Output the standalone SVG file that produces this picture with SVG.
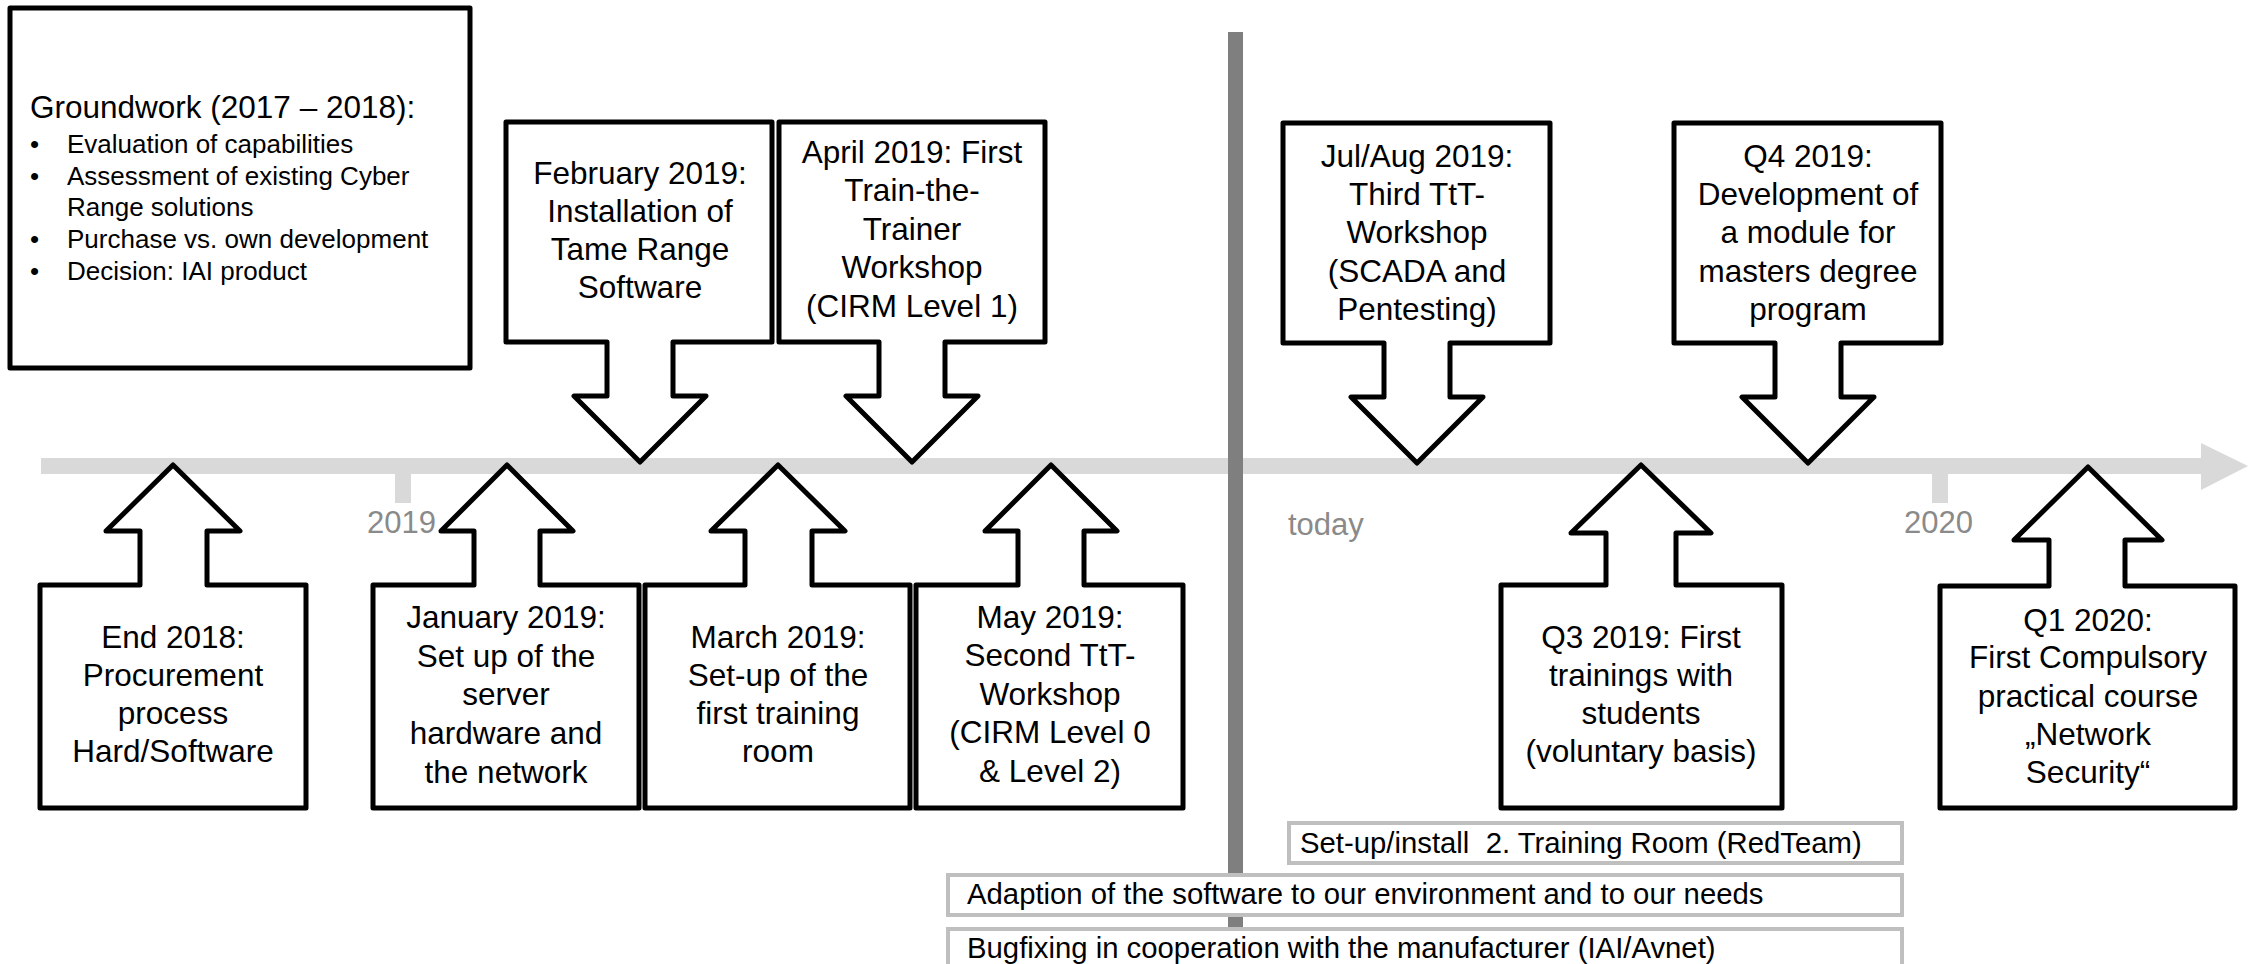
<svg xmlns="http://www.w3.org/2000/svg" width="2251" height="964" viewBox="0 0 2251 964">
<style>
.bg{fill:#ffffff}
.node{fill:#ffffff;stroke:#000000;stroke-width:5;stroke-linejoin:round}
.t{font-family:"Liberation Sans",Arial,Helvetica,sans-serif;font-size:31.5px;fill:#000000;text-anchor:middle}
.gw{font-family:"Liberation Sans",Arial,Helvetica,sans-serif;fill:#000000}
.lbl{font-family:"Liberation Sans",Arial,Helvetica,sans-serif;font-size:31px;fill:#8a8a8a}
.bar{fill:#ffffff;stroke:#bfbfbf;stroke-width:4}
.bt{font-family:"Liberation Sans",Arial,Helvetica,sans-serif;font-size:29.3px;fill:#000000}
.axis{fill:#d9d9d9}
</style>
<rect class="bg" x="0" y="0" width="2251" height="964"/>

<g id="timeline">
  <rect class="axis" x="41" y="458" width="2162" height="16"/>
  <polygon class="axis" points="2201,443 2248,466 2201,490"/>
  <rect class="axis" x="395" y="472" width="16" height="31"/>
  <rect class="axis" x="1932" y="472" width="16" height="31"/>
  <text class="lbl" x="367" y="533">2019</text>
  <text class="lbl" x="1904" y="533">2020</text>
  <text class="lbl" x="1288" y="535">today</text>
</g>

<g id="groundwork">
  <rect class="node" x="10" y="8" width="460" height="360"/>
  <text class="gw" x="30" y="118" font-size="31.5">Groundwork (2017 – 2018):</text>
  <g font-size="26">
    <text class="gw" x="30" y="153">•</text>
    <text class="gw" x="67" y="153">Evaluation of capabilities</text>
    <text class="gw" x="30" y="185">•</text>
    <text class="gw" x="67" y="185">Assessment of existing Cyber</text>
    <text class="gw" x="67" y="216">Range solutions</text>
    <text class="gw" x="30" y="248">•</text>
    <text class="gw" x="67" y="248">Purchase vs. own development</text>
    <text class="gw" x="30" y="280">•</text>
    <text class="gw" x="67" y="280">Decision: IAI product</text>
  </g>
</g>

<g id="feb2019">
  <polygon class="node" points="506,122 772,122 772,342 673,342 673,396 706,396 640,462 574,396 607,396 607,342 506,342"/>
  <text class="t"><tspan x="640" y="184">February 2019:</tspan><tspan x="640" y="222">Installation of</tspan><tspan x="640" y="260">Tame Range</tspan><tspan x="640" y="298">Software</tspan></text>
</g>

<g id="apr2019">
  <polygon class="node" points="779,122 1045,122 1045,342 945,342 945,396 978,396 912,462 846,396 879,396 879,342 779,342"/>
  <text class="t"><tspan x="912" y="163">April 2019: First</tspan><tspan x="912" y="201">Train-the-</tspan><tspan x="912" y="240">Trainer</tspan><tspan x="912" y="278">Workshop</tspan><tspan x="912" y="317">(CIRM Level 1)</tspan></text>
</g>

<g id="julaug2019">
  <polygon class="node" points="1283,123 1550,123 1550,343 1450,343 1450,397 1483,397 1417,463 1351,397 1384,397 1384,343 1283,343"/>
  <text class="t"><tspan x="1417" y="167">Jul/Aug 2019:</tspan><tspan x="1417" y="205">Third TtT-</tspan><tspan x="1417" y="243">Workshop</tspan><tspan x="1417" y="282">(SCADA and</tspan><tspan x="1417" y="320">Pentesting)</tspan></text>
</g>

<g id="q42019">
  <polygon class="node" points="1674,123 1941,123 1941,343 1841,343 1841,397 1874,397 1808,463 1742,397 1775,397 1775,343 1674,343"/>
  <text class="t"><tspan x="1808" y="167">Q4 2019:</tspan><tspan x="1808" y="205">Development of</tspan><tspan x="1808" y="243">a module for</tspan><tspan x="1808" y="282">masters degree</tspan><tspan x="1808" y="320">program</tspan></text>
</g>

<g id="end2018">
  <polygon class="node" points="173,465 240,531 207,531 207,585 306,585 306,808 40,808 40,585 140,585 140,531 106,531"/>
  <text class="t"><tspan x="173" y="648">End 2018:</tspan><tspan x="173" y="686">Procurement</tspan><tspan x="173" y="724">process</tspan><tspan x="173" y="762">Hard/Software</tspan></text>
</g>

<g id="jan2019">
  <polygon class="node" points="507,465 573,531 540,531 540,585 639,585 639,808 373,808 373,585 474,585 474,531 441,531"/>
  <text class="t"><tspan x="506" y="628">January 2019:</tspan><tspan x="506" y="667">Set up of the</tspan><tspan x="506" y="705">server</tspan><tspan x="506" y="744">hardware and</tspan><tspan x="506" y="783">the network</tspan></text>
</g>

<g id="mar2019">
  <polygon class="node" points="778,465 845,531 812,531 812,585 910,585 910,808 645,808 645,585 745,585 745,531 711,531"/>
  <text class="t"><tspan x="778" y="648">March 2019:</tspan><tspan x="778" y="686">Set-up of the</tspan><tspan x="778" y="724">first training</tspan><tspan x="778" y="762">room</tspan></text>
</g>

<g id="may2019">
  <polygon class="node" points="1051,465 1117,531 1084,531 1084,585 1183,585 1183,808 916,808 916,585 1018,585 1018,531 985,531"/>
  <text class="t"><tspan x="1050" y="628">May 2019:</tspan><tspan x="1050" y="666">Second TtT-</tspan><tspan x="1050" y="705">Workshop</tspan><tspan x="1050" y="743">(CIRM Level 0</tspan><tspan x="1050" y="782">&amp; Level 2)</tspan></text>
</g>

<g id="q32019">
  <polygon class="node" points="1641,465 1711,533 1676,533 1676,585 1782,585 1782,808 1501,808 1501,585 1606,585 1606,533 1571,533"/>
  <text class="t"><tspan x="1641" y="648">Q3 2019: First</tspan><tspan x="1641" y="686">trainings with</tspan><tspan x="1641" y="724">students</tspan><tspan x="1641" y="762">(voluntary basis)</tspan></text>
</g>

<g id="q12020">
  <polygon class="node" points="2088,467 2162,540 2125,540 2125,586 2235,586 2235,808 1940,808 1940,586 2049,586 2049,540 2014,540"/>
  <text class="t"><tspan x="2088" y="631">Q1 2020:</tspan><tspan x="2088" y="668">First Compulsory</tspan><tspan x="2088" y="707">practical course</tspan><tspan x="2088" y="745">„Network</tspan><tspan x="2088" y="783">Security“</tspan></text>
</g>

<g id="connectors">
  <rect x="1228" y="32" width="15" height="932" fill="#7f7f7f"/>
</g>

<g id="setup-room2">
  <rect class="bar" x="1289" y="823" width="613" height="40"/>
  <text class="bt" x="1300" y="853" xml:space="preserve">Set-up/install  2. Training Room (RedTeam)</text>
</g>
<g id="adaption">
  <rect class="bar" x="948" y="875" width="954" height="40"/>
  <text class="bt" x="967" y="904">Adaption of the software to our environment and to our needs</text>
</g>
<g id="bugfixing">
  <rect class="bar" x="948" y="929" width="954" height="45"/>
  <text class="bt" x="967" y="958">Bugfixing in cooperation with the manufacturer (IAI/Avnet)</text>
</g>
</svg>
